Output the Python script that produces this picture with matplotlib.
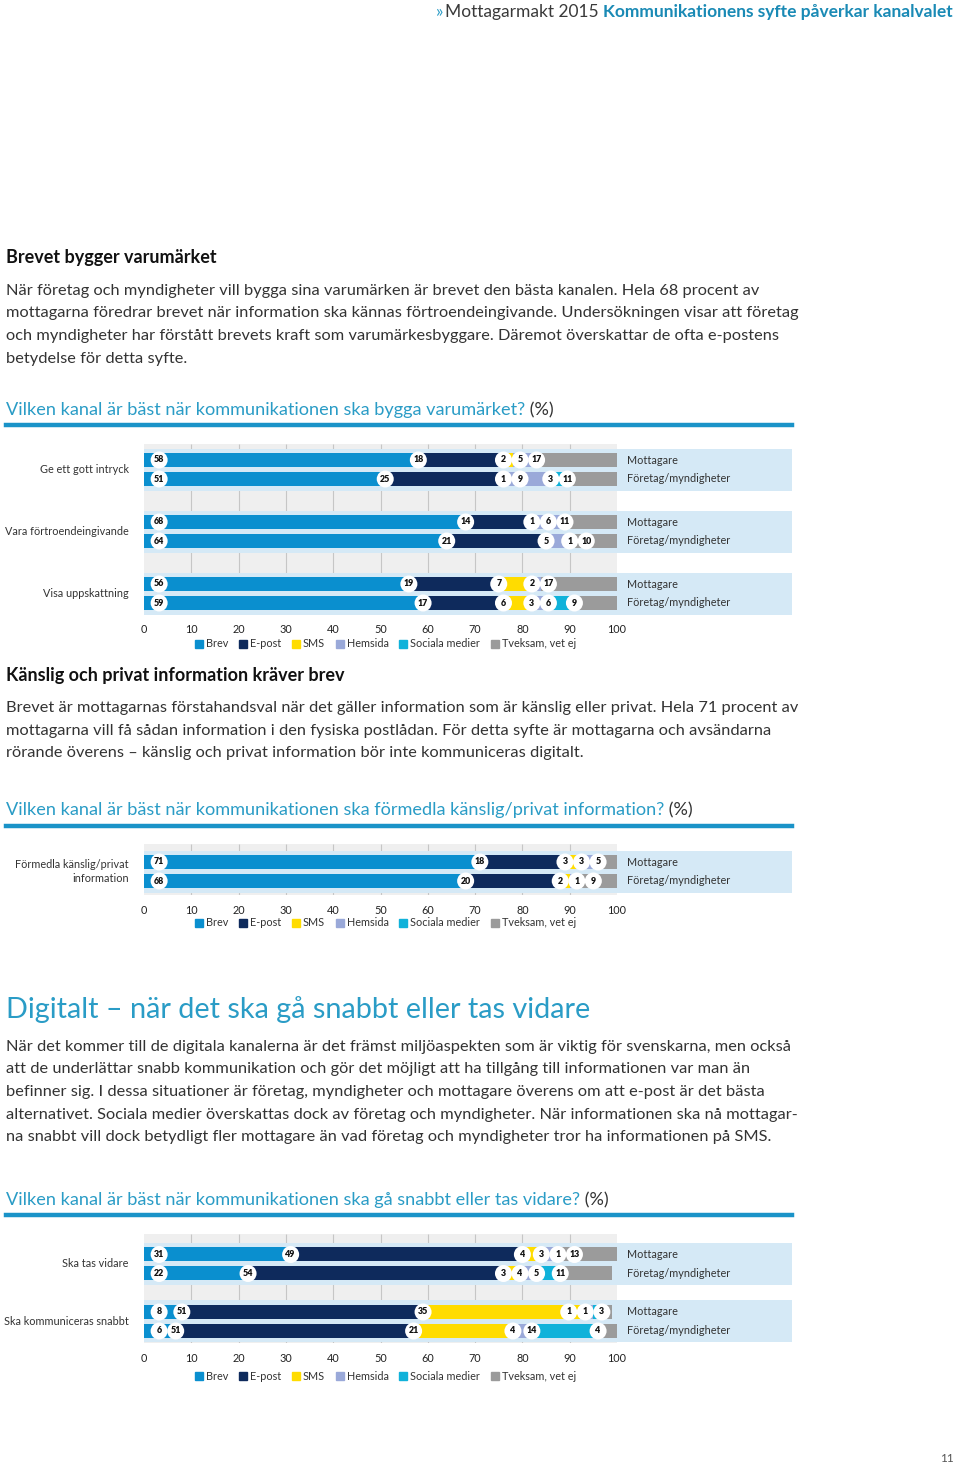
import matplotlib
matplotlib.use('Agg')
import matplotlib.pyplot as plt
from matplotlib.patches import Rectangle
from matplotlib.lines import Line2D
import numpy as np

plt.rcParams['font.family'] = ['Lato', 'DejaVu Sans']

# === DATA ===
channels = ['Brev', 'E-post', 'SMS', 'Hemsida', 'Sociala medier', 'Tveksam, vet ej']
respondents = ['Mottagare', 'Företag/myndigheter']

q1 = ['Ge ett gott intryck', 'Vara förtroendeingivande', 'Visa uppskattning']
q1_mottagare = [[58, 18, 2, 5, 0, 17], [68, 14, 1, 6, 0, 11], [56, 19, 7, 2, 0, 17]]
q1_foretag = [[51, 25, 1, 9, 3, 11], [64, 21, 0, 5, 1, 10], [59, 17, 6, 3, 6, 9]]

q2 = ['Förmedla känslig/privat\ninformation']
q2_mottagare = [[71, 18, 3, 3, 0, 5]]
q2_foretag = [[68, 20, 2, 1, 0, 9]]

q3 = ['Ska tas vidare', 'Ska kommuniceras snabbt']
q3_mottagare = [[31, 49, 4, 3, 1, 13], [8, 51, 35, 1, 1, 3]]
q3_foretag = [[22, 54, 3, 4, 5, 11], [6, 51, 21, 4, 14, 4]]

# === STYLE ===
W, H = 960, 1464
X0, X1 = 144, 617
colors = ['#0a8fcf', '#0e2a5c', '#ffdc00', '#9aa9d9', '#10b2da', '#9b9b9b']
band = '#d5e9f6'
teal = '#2a9cc6'
txt = '#333333'
small = 7.8
title_size = 13.1

fig = plt.figure(figsize=(W / 100, H / 100), dpi=100)
fig.patch.set_facecolor('white')
renderer = fig.canvas.get_renderer()


def fx(x):
    return x / W


def fy(y):
    return 1 - y / H


def two_part(x, y, first, second, size, c1, c2, w1='normal', w2='normal', align='left'):
    # draws two differently coloured pieces of text next to each other
    if align == 'left':
        t1 = fig.text(fx(x), fy(y), first, fontsize=size, color=c1, weight=w1, va='center', ha='left')
        bb = t1.get_window_extent(renderer)
        fig.text(bb.x1 / W, fy(y), second, fontsize=size, color=c2, weight=w2, va='center', ha='left')
        return None
    t2 = fig.text(fx(x), fy(y), second, fontsize=size, color=c2, weight=w2, va='center', ha='right')
    bb = t2.get_window_extent(renderer)
    t1 = fig.text(bb.x0 / W, fy(y), first, fontsize=size, color=c1, weight=w1, va='center', ha='right')
    return t1.get_window_extent(renderer).x0


def paragraph(y0, lines, size=11.8, step=22.5):
    for i, line in enumerate(lines):
        fig.text(fx(6), fy(y0 + i * step), line, fontsize=size, color=txt, va='center')


def rule(y):
    fig.add_artist(Line2D([fx(6), fx(792)], [fy(y), fy(y)], color='#1a93c8', lw=3.2))


def circle_positions(vals, lo=3.2, hi=96.8, gap=3.5):
    # one circle at the start of each non-empty segment, spread so they do not overlap
    starts, vs, start = [], [], 0
    for v in vals:
        if v > 0:
            starts.append(min(max(start, lo), hi))
            vs.append(v)
        start += v
    pos = list(starts)
    for i in range(1, len(pos)):
        pos[i] = max(pos[i], pos[i - 1] + gap)
    if pos[-1] > hi:
        pos[-1] = hi
        for i in range(len(pos) - 2, -1, -1):
            pos[i] = min(pos[i], pos[i + 1] - gap)
    return list(zip(pos, vs))


def draw_chart(top, bottom, centers, questions, mott, foret, legend_y):
    ax = fig.add_axes([fx(X0), fy(bottom), (X1 - X0) / W, (bottom - top) / H])
    ax.set_xlim(0, 100)
    ax.set_ylim(bottom, top)
    ax.set_facecolor('#efefef')
    for s in ax.spines.values():
        s.set_visible(False)
    ax.set_yticks([])
    ax.set_xticks(np.arange(0, 101, 10))
    ax.tick_params(axis='x', length=0, pad=7, labelsize=small, labelcolor='#222')
    ax.vlines(np.arange(10, 100, 10), top, bottom, color='#c6c6c6', lw=0.8, zorder=1)

    for q, c, m, f in zip(questions, centers, mott, foret):
        ax.add_patch(Rectangle((0, c - 21), 137, 42, facecolor=band, edgecolor='none',
                               clip_on=False, zorder=2))
        ax.text(-3.2, c, q, ha='right', va='center', fontsize=small, color=txt, linespacing=1.3)
        for vals, yy, name in [(m, c - 9.5, respondents[0]), (f, c + 9.5, respondents[1])]:
            left = 0
            for v, col in zip(vals, colors):
                ax.barh(yy, v, left=left, height=14, color=col, zorder=3)
                left += v
            for p, v in circle_positions(vals):
                ax.scatter(p, yy, s=150, c='white', edgecolors='none', zorder=4, clip_on=False)
                ax.text(p, yy, str(v), ha='center', va='center', fontsize=6.4,
                        weight='heavy', color='#111', zorder=5)
            ax.text(102.2, yy, name, ha='left', va='center', fontsize=small, color=txt)

    handles = [Line2D([], [], marker='s', ls='none', color=col, markersize=5.5) for col in colors]
    leg = fig.legend(handles, channels, loc='center', bbox_to_anchor=(fx(386), fy(legend_y)),
                     ncol=6, frameon=False, fontsize=small, handlelength=0.6, handletextpad=0.35,
                     columnspacing=1.05, borderpad=0)
    for t in leg.get_texts():
        t.set_color(txt)
    return ax


# === HEADER ===
x_head = two_part(953, 12, 'Mottagarmakt 2015 ', 'Kommunikationens syfte påverkar kanalvalet', 12.5,
                  '#3a3a3a', '#1a8ab5', w2='bold', align='right')
fig.text(x_head / W - fx(2), fy(12), '»', fontsize=12.5, color=teal, ha='right', va='center')

# === SECTION 1 ===
fig.text(fx(6), fy(258), 'Brevet bygger varumärket', fontsize=13, weight='bold', color='#111', va='center')
paragraph(291, [
    'När företag och myndigheter vill bygga sina varumärken är brevet den bästa kanalen. Hela 68 procent av',
    'mottagarna föredrar brevet när information ska kännas förtroendeingivande. Undersökningen visar att företag',
    'och myndigheter har förstått brevets kraft som varumärkesbyggare. Däremot överskattar de ofta e-postens',
    'betydelse för detta syfte.',
])
two_part(6, 410, 'Vilken kanal är bäst när kommunikationen ska bygga varumärket?', ' (%)', title_size, teal, txt)
rule(425)
draw_chart(444, 614, [469.5, 531.5, 593.5], q1, q1_mottagare, q1_foretag, 644)

# === SECTION 2 ===
fig.text(fx(6), fy(675), 'Känslig och privat information kräver brev', fontsize=13, weight='bold',
         color='#111', va='center')
paragraph(708, [
    'Brevet är mottagarnas förstahandsval när det gäller information som är känslig eller privat. Hela 71 procent av',
    'mottagarna vill få sådan information i den fysiska postlådan. För detta syfte är mottagarna och avsändarna',
    'rörande överens – känslig och privat information bör inte kommuniceras digitalt.',
])
two_part(6, 810, 'Vilken kanal är bäst när kommunikationen ska förmedla känslig/privat information?', ' (%)',
         title_size, teal, txt)
rule(826)
draw_chart(844, 895, [871.5], q2, q2_mottagare, q2_foretag, 923)

# === SECTION 3 ===
fig.text(fx(6), fy(1010), 'Digitalt – när det ska gå snabbt eller tas vidare', fontsize=20.8,
         color=teal, va='center')
paragraph(1047, [
    'När det kommer till de digitala kanalerna är det främst miljöaspekten som är viktig för svenskarna, men också',
    'att de underlättar snabb kommunikation och gör det möjligt att ha tillgång till informationen var man än',
    'befinner sig. I dessa situationer är företag, myndigheter och mottagare överens om att e-post är det bästa',
    'alternativet. Sociala medier överskattas dock av företag och myndigheter. När informationen ska nå mottagar-',
    'na snabbt vill dock betydligt fler mottagare än vad företag och myndigheter tror ha informationen på SMS.',
])
two_part(6, 1200, 'Vilken kanal är bäst när kommunikationen ska gå snabbt eller tas vidare?', ' (%)',
         title_size, teal, txt)
rule(1215)
draw_chart(1234, 1343, [1264, 1321.5], q3, q3_mottagare, q3_foretag, 1376)

fig.text(fx(954), fy(1458), '11', fontsize=8.5, color='#555', ha='right', va='center')

plt.savefig('out.png', dpi=100)
